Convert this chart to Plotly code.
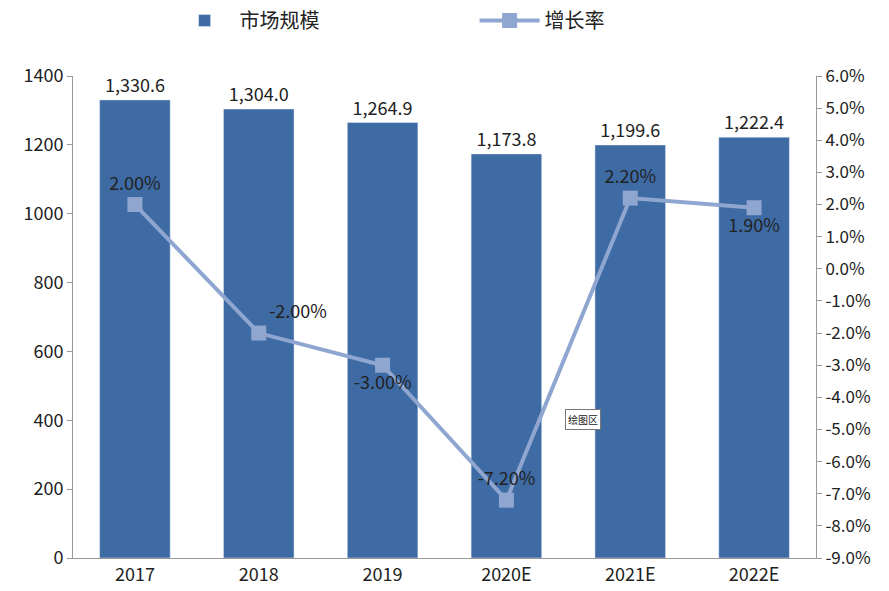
import plotly.graph_objects as go

years = ["2017", "2018", "2019", "2020E", "2021E", "2022E"]
market = [1330.6, 1304.0, 1264.9, 1173.8, 1199.6, 1222.4]
growth = [2.00, -2.00, -3.00, -7.20, 2.20, 1.90]
bar_labels = ["1,330.6", "1,304.0", "1,264.9", "1,173.8", "1,199.6", "1,222.4"]
growth_labels = ["2.00%", "-2.00%", "-3.00%", "-7.20%", "2.20%", "1.90%"]
growth_pos = ["top center", "top right", "bottom center", "top center", "top center", "bottom center"]
right_ticks = [6 - i for i in range(16)]

font = "Noto Sans CJK SC"
fig = go.Figure()
fig.add_bar(x=years, y=market, name="市场规模", marker_color="#3E6BA4", width=0.57,
            text=bar_labels, textposition="outside", textfont=dict(size=18, color="#222"),
            cliponaxis=False)
fig.add_scatter(x=years, y=growth, name="增长率", yaxis="y2", mode="lines+markers+text",
                line=dict(color="#8FA6D0", width=4), marker=dict(symbol="square", size=15, color="#8FA6D0"),
                text=growth_labels, textposition=growth_pos, textfont=dict(size=18, color="#222"),
                cliponaxis=False)
fig.update_layout(
    width=889, height=591, margin=dict(l=65, r=81, t=68, b=41, autoexpand=False),
    paper_bgcolor="white", plot_bgcolor="white",
    font=dict(family=font, size=16, color="#222"),
    showlegend=True,
    legend=dict(orientation="h", x=0.13, y=1.115, xanchor="left", yanchor="middle",
                font=dict(size=20), itemwidth=60, entrywidth=230),
    xaxis=dict(showline=True, linecolor="#999", ticks="", tickfont=dict(size=18)),
    yaxis=dict(range=[0, 1400], dtick=200, showgrid=False, showline=True, linecolor="#999",
               ticks="outside", ticklen=5, tickcolor="#999", tickfont=dict(size=18)),
    yaxis2=dict(range=[-9, 6], overlaying="y", side="right", showgrid=False, showline=True,
                linecolor="#999", ticks="outside", ticklen=5, tickcolor="#999",
                tickvals=right_ticks, ticktext=[f"{v:.1f}%" for v in right_ticks],
                tickfont=dict(size=17), zeroline=False),
    bargap=0.43,
)
fig.add_annotation(x=0.71, y=0.265, xref="paper", yref="paper", text="绘图区", showarrow=False,
                   font=dict(size=10), bordercolor="#777", borderwidth=1, bgcolor="white", borderpad=2)
fig.write_html("out.html")
